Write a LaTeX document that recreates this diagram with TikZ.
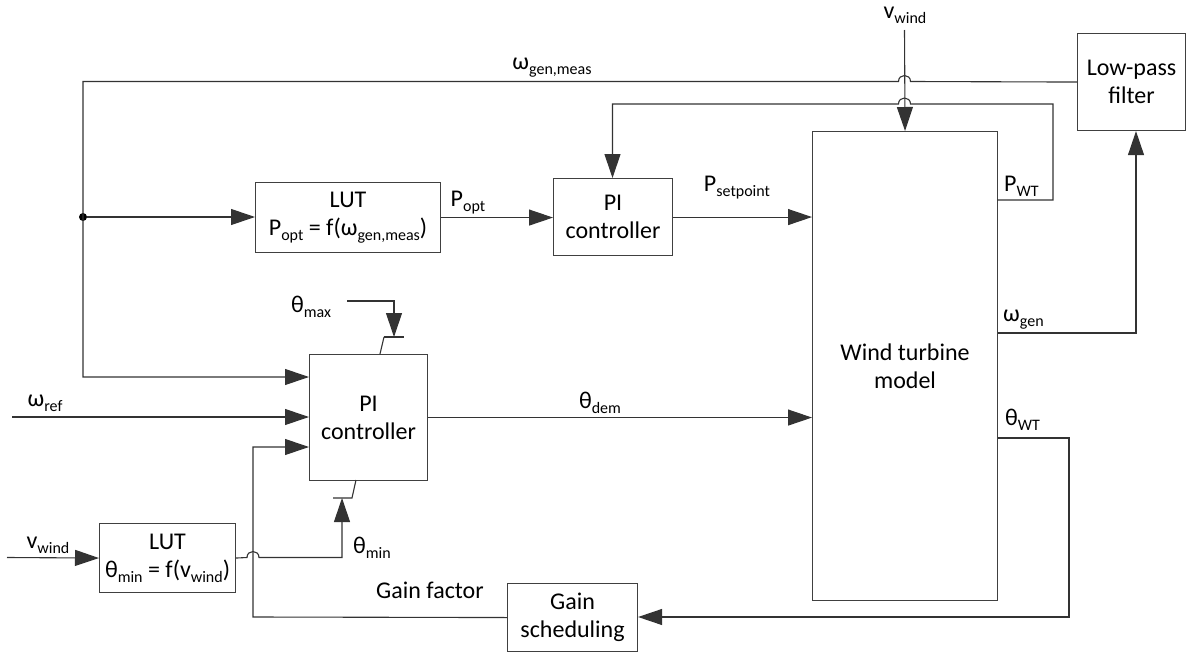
\documentclass[tikz,border=0pt]{standalone}
\usepackage{fontspec}
\setmainfont{Carlito}
\usetikzlibrary{arrows.meta,calc}
\newcommand\sbs[1]{\raisebox{-5pt}{\fontsize{16}{16}\selectfont #1}}
\begin{document}
\begin{tikzpicture}[x=1pt,y=-1pt,
  font=\fontsize{24}{28}\selectfont,
  blk/.style={draw=black!75, line width=1.1pt, fill=white, align=center, inner sep=0pt, anchor=north west},
  conn/.style={draw=black!80, line width=1.1pt},
  arr/.style={conn, -{Triangle[length=24pt,width=16pt]}},
  lbl/.style={inner sep=0pt}
]
\useasboundingbox (0,0) rectangle (1187,653);

% blocks
\node[blk, minimum width=185pt, minimum height=70pt] (lut1) at (255,182) {LUT\\P\sbs{opt} = f(ω\sbs{gen,meas})};
\node[blk, minimum width=119pt, minimum height=77pt] (pi1) at (553,178) {PI\\controller};
\node[blk, minimum width=185pt, minimum height=469pt] (wt) at (812,131) {Wind turbine\\model};
\node[blk, minimum width=108pt, minimum height=97pt] (lpf) at (1077,33) {Low-pass\\filter};
\node[blk, minimum width=118pt, minimum height=126pt] (pi2) at (309,354) {PI\\controller};
\node[blk, minimum width=136pt, minimum height=69pt] (lut2) at (99,523) {LUT\\θ\sbs{min} = f(v\sbs{wind})};
\node[blk, minimum width=130pt, minimum height=68pt] (gs) at (507,583) {Gain\\scheduling};

% coordinates
\coordinate (c1) at (83,81.5);
\coordinate (c2) at (83,377);
\node[circle, fill=black, inner sep=0pt, minimum size=8pt] (dot) at (83,217) {};
\coordinate (vtop) at (904.5,30);
\coordinate (p1) at (997,200);
\coordinate (p2) at (1053,200);
\coordinate (p3) at (1053,104);
\coordinate (p4) at (612.5,104);
\coordinate (g1) at (1136,333);
\coordinate (t1) at (1069,438);
\coordinate (t2) at (1069,617);
\coordinate (f1) at (253,617);
\coordinate (f2) at (253,447);
\coordinate (wr) at (12,417);
\coordinate (vw2) at (7,557.5);
\coordinate (m1) at (342,557.5);
\coordinate (m2) at (342,498);
\coordinate (x1) at (347,301);
\coordinate (x2) at (394,301);
\coordinate (x3) at (394,337);

% connectors
\draw[arr] (lpf.west) -- (910.5,81.5) .. controls (910.5,73.5) and (898.5,73.5) .. (898.5,81.5) -- (c1) -- (c2) -- (c2 -| pi2.west);
\draw[arr] (dot) -- (dot -| lut1.west);
\draw[arr] (lut1.east) -- (lut1.east -| pi1.west);
\draw[arr] (pi1.east) -- (pi1.east -| wt.west);
\draw[arr] (p1) -- (p2) -- (p3) -- (910.5,104) .. controls (910.5,96) and (898.5,96) .. (898.5,104) -- (p4) -- (p4 |- pi1.north);
\draw[arr] (vtop) -- (wt.north);
\draw[arr] (g1 -| wt.east) -- (g1) -- (g1 |- lpf.south);
\draw[arr] (t1 -| wt.east) -- (t1) -- (t2) -- (t2 -| gs.east);
\draw[arr] (gs.west) -- (f1) -- (f2) -- (f2 -| pi2.west);
\draw[arr] (wr) -- (wr -| pi2.west);
\draw[arr] (pi2.east) -- (pi2.east -| wt.west);
\draw[arr] (vw2) -- (lut2.west);
\draw[arr] (lut2.east) -- (247,557.5) .. controls (247,549.5) and (259,549.5) .. (259,557.5) -- (m1) -- (m2);
\draw[arr] (x1) -- (x2) -- (x3);
% limiter marks
\draw[conn] (384,337) -- (404,337);
\draw[conn] (384,337) -- (380,354);
\draw[conn] (333,498) -- (352,498) -- (356,480);

% labels
\node[lbl] (lgm) at (552,68) {ω\sbs{gen,meas}};
\node[lbl] (lvw1) at (905,15) {v\sbs{wind}};
\node[lbl] (lpo) at (468,203) {P\sbs{opt}};
\node[lbl] (lps) at (737,188) {P\sbs{setpoint}};
\node[lbl, anchor=west] (lpw) at (1004,186) {P\sbs{WT}};
\node[lbl, anchor=west] (lwg) at (1003,320) {ω\sbs{gen}};
\node[lbl, anchor=west] (ltw) at (1005,420) {θ\sbs{WT}};
\node[lbl] (lwr) at (45,403) {ω\sbs{ref}};
\node[lbl] (ltd) at (600,403) {θ\sbs{dem}};
\node[lbl] (ltx) at (311,307) {θ\sbs{max}};
\node[lbl] (ltn) at (372,548) {θ\sbs{min}};
\node[lbl] (lvw2) at (48,545) {v\sbs{wind}};
\node[lbl] (lgf) at (430,590) {Gain factor};
\end{tikzpicture}
\end{document}
